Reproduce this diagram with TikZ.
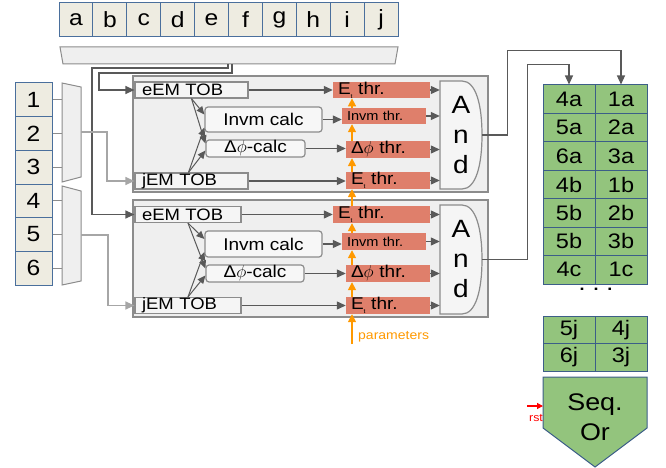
\documentclass[tikz,border=0pt]{standalone}
\usepackage{fontspec}
\setmainfont[FakeStretch=1.12]{Liberation Sans}
\usetikzlibrary{arrows.meta,calc}
\definecolor{beige}{HTML}{EEECE1}
\definecolor{cellblue}{HTML}{4A6F9C}
\definecolor{bggray}{HTML}{EFEFEF}
\definecolor{edgegray}{HTML}{8C8C8C}
\definecolor{arrgray}{HTML}{595959}
\definecolor{wiregray}{HTML}{A6A6A6}
\definecolor{salmon}{HTML}{DF7F6B}
\definecolor{gfill}{HTML}{93C47D}
\definecolor{gedge}{HTML}{3C5E88}
\definecolor{orng}{HTML}{FF9900}
\newcommand\fsz[2]{\fontsize{#1}{#2}\selectfont}
\newcommand\EtLab{E\raisebox{-4pt}{\fsz{6}{6}t}}
\begin{document}
\begin{tikzpicture}[x=1pt,y=-1pt,
  cellb/.style={draw=cellblue, fill=beige, line width=1pt, inner sep=0pt, font=\fsz{22}{26}},
  muxs/.style={draw=edgegray, fill=bggray, line width=1pt},
  blk/.style={draw=edgegray, fill=bggray, line width=1.5pt, inner sep=0pt},
  tob/.style={draw=edgegray, fill=bggray!60!white, line width=1.2pt, inner sep=0pt, inner xsep=7pt, minimum height=16pt, align=left, font=\fsz{16.5}{18}},
  calcb/.style={draw=edgegray, fill=bggray!50!white, line width=1.2pt, rounded corners=3pt, inner sep=0pt, font=\fsz{17}{19}},
  thrb/.style={fill=salmon, inner sep=0pt, inner xsep=5pt, align=left, font=\fsz{17}{19}},
  andb/.style={inner sep=0pt, minimum width=42pt, minimum height=108pt, align=center, font=\fsz{25}{30}},
  andshape/.style={draw=edgegray, fill=bggray!60!white, line width=1.2pt},
  gcell/.style={draw=gedge, fill=gfill, line width=1pt, inner sep=0pt, minimum width=52pt, font=\fsz{21}{24}},
  arr/.style={draw=arrgray, line width=1.2pt, -{Triangle[length=9pt,width=8pt]}},
  farr/.style={draw=arrgray, line width=1pt, -{Triangle[length=8pt,width=7pt]}},
  larr/.style={draw=wiregray, line width=1.2pt, -{Triangle[length=9pt,width=8pt]}},
  wire/.style={draw=edgegray, line width=1pt},
  oarr/.style={draw=orng, line width=1.5pt, -{Triangle[length=8pt,width=8pt]}},
]
\useasboundingbox (0,0) rectangle (666,468);

% top row
\foreach \l [count=\i from 0] in {a,b,c,d,e,f,g,h,i,j}
  \node[cellb, minimum width=33.9pt, minimum height=34pt] (t\l) at ({59+33.9*(\i+0.5)},20) {\l};
\draw[muxs] (60,47) -- (398,47) -- (395,64) -- (63,64) -- cycle;
\coordinate (tmo1) at (228,64);
\coordinate (tmo2) at (232,64);

% left column
\foreach \n in {1,...,6}
  \node[cellb, minimum width=37pt, minimum height=33.67pt] (n\n) at (33.5,{83+33.67*(\n-0.5)}) {\n};
\draw[muxs] (62,83) -- (81,87) -- (81,177) -- (62,182) -- cycle;
\draw[muxs] (62,186) -- (81,191) -- (81,281) -- (62,285) -- cycle;
\coordinate (m1l) at (62,130);
\coordinate (m2l) at (62,235);
\coordinate (m1o) at (81,132);
\coordinate (m2o) at (81,235);
\foreach \n in {1,2,3} \draw[wire] (n\n.east) -- (n\n.east -| m1l);
\foreach \n in {4,5,6} \draw[wire] (n\n.east) -- (n\n.east -| m2l);

% blocks
\node[blk, minimum width=355pt, minimum height=116pt] (blkA) at (310.5,134) {};
\node[blk, minimum width=355pt, minimum height=117pt] (blkB) at (310.5,258.5) {};

% block A
\node[tob, text width=99pt] (eemA) at (191.5,90) {eEM TOB};
\node[tob, text width=99pt] (jemA) at (191.5,181) {jEM TOB};
\node[calcb, minimum width=117pt, minimum height=25pt] (invA) at (263.5,119.5) {Invm calc};
\node[calcb, minimum width=99pt, minimum height=17pt] (dphA) at (255.5,148.5) {Δ$\phi$-calc};
\node[thrb, text width=87pt, minimum height=16pt] (etA1) at (381.5,90) {\EtLab\ thr.};
\node[thrb, text width=74pt, minimum height=16pt, font=\fsz{13}{14}] (invtA) at (384,116) {Invm thr.};
\node[thrb, text width=74pt, minimum height=17pt] (dphtA) at (388,149.5) {Δ$\phi$ thr.};
\node[thrb, text width=74pt, minimum height=17pt] (etA2) at (388,180.5) {\EtLab\ thr.};
\coordinate (andAc) at (461,135);
\draw[andshape] ($(andAc)+(-21,-54)$) -- ++(22,0) .. controls +(14,0) and +(0,-30) .. ($(andAc)+(21,0)$) .. controls +(0,30) and +(14,0) .. ($(andAc)+(1,54)$) -- ($(andAc)+(-21,54)$) -- cycle;
\node[andb] (andA) at (andAc) {A\\n\\d};

% block B
\node[tob, text width=92pt] (eemB) at (188,214.5) {eEM TOB};
\node[tob, text width=92pt] (jemB) at (188,305.5) {jEM TOB};
\node[calcb, minimum width=117pt, minimum height=26pt] (invB) at (263.5,244) {Invm calc};
\node[calcb, minimum width=98pt, minimum height=17pt] (dphB) at (255,273.5) {Δ$\phi$-calc};
\node[thrb, text width=87pt, minimum height=17pt] (etB1) at (381.5,214.5) {\EtLab\ thr.};
\node[thrb, text width=74pt, minimum height=17pt, font=\fsz{13}{14}] (invtB) at (384,241.5) {Invm thr.};
\node[thrb, text width=74pt, minimum height=17pt] (dphtB) at (388,273.5) {Δ$\phi$ thr.};
\node[thrb, text width=74pt, minimum height=17pt] (etB2) at (388,305.5) {\EtLab\ thr.};
\coordinate (andBc) at (461,259.5);
\draw[andshape] ($(andBc)+(-21,-54.5)$) -- ++(22,0) .. controls +(14,0) and +(0,-30) .. ($(andBc)+(21,0)$) .. controls +(0,30) and +(14,0) .. ($(andBc)+(1,54.5)$) -- ($(andBc)+(-21,54.5)$) -- cycle;
\node[andb, minimum height=109pt] (andB) at (andBc) {A\\n\\d};

% top wires
\draw[arr] (tmo1) -- ++(0,4) -- ++(-136,0) |- (eemB.west);
\draw[arr] (tmo2) -- ++(0,9) -- ++(-133,0) |- (eemA.west);
% mux outputs
\draw[larr] (m1o) -- ++(26,0) |- (jemA.west);
\draw[larr] (m2o) -- ++(27,0) |- (jemB.west);

% fan arrows
\draw[farr] (eemA.south) -- ([yshift=5pt]invA.west);
\draw[farr] (eemA.south) -- ([yshift=5pt]dphA.west);
\draw[farr] ([xshift=-3pt]jemA.north) -- ([yshift=-8pt]invA.west);
\draw[farr] ([xshift=-3pt]jemA.north) -- ([yshift=-2pt]dphA.west);
\draw[farr] (eemB.south) -- ([yshift=5pt]invB.west);
\draw[farr] (eemB.south) -- ([yshift=5pt]dphB.west);
\draw[farr] (jemB.north) -- ([yshift=-8pt]invB.west);
\draw[farr] (jemB.north) -- ([yshift=-2pt]dphB.west);

% horizontal arrows
\foreach \s/\t in {eemA/etA1, invA/invtA, dphA/dphtA, jemA/etA2, eemB/etB1, invB/invtB, dphB/dphtB, jemB/etB2}
  \draw[arr] (\s.east) -- (\s.east -| \t.west);
\foreach \s in {etA1, invtA, dphtA, etA2}
  \draw[arr] (\s.east) -- (\s.east -| andA.west);
\foreach \s in {etB1, invtB, dphtB, etB2}
  \draw[arr] (\s.east) -- (\s.east -| andB.west);

% orange parameter chain
\coordinate (par) at (352,344);
\node[text=orng, font=\fsz{12.5}{14}, anchor=west, inner sep=0pt] (params) at (358,337) {parameters};
\draw[oarr] (par) -- (par |- etB2.south);
\draw[oarr] (etB2.north -| par) -- (dphtB.south -| par);
\draw[oarr] (dphtB.north -| par) -- (invtB.south -| par);
\draw[oarr] (invtB.north -| par) -- (etB1.south -| par);
\draw[oarr] (etB1.north -| par) -- (etA2.south -| par);
\draw[oarr] (etA2.north -| par) -- (dphtA.south -| par);
\draw[oarr] (dphtA.north -| par) -- (invtA.south -| par);
\draw[oarr] (invtA.north -| par) -- (etA1.south -| par);

% green table
\foreach \a/\b [count=\r from 0] in {4a/1a,5a/2a,6a/3a,4b/1b,5b/2b,5b/3b,4c/1c} {
  \node[gcell, minimum height=28.43pt] (gL\r) at (569,{85+28.43*(\r+0.5)}) {\a};
  \node[gcell, minimum height=28.43pt] (gR\r) at (621,{85+28.43*(\r+0.5)}) {\b};
}
\node[font=\bfseries\fsz{16}{18}, inner sep=0pt] (dots) at (596,289) {.\hspace{9pt}.\hspace{9pt}.};
\node[gcell, minimum height=27.5pt] (bL0) at (569,329.75) {5j};
\node[gcell, minimum height=27.5pt] (bR0) at (621,329.75) {4j};
\node[gcell, minimum height=27.5pt] (bL1) at (569,357.25) {6j};
\node[gcell, minimum height=27.5pt] (bR1) at (621,357.25) {3j};
\draw[draw=gedge, fill=gfill, line width=1pt] (543,377) -- (647,377) -- (647,428) -- (595,467) -- (543,428) -- cycle;
\node[align=center, font=\fsz{24}{30}, inner sep=0pt] (seqor) at (595,417) {Seq.\\Or};

% And outputs
\draw[arr] (andA.east) -- ++(25,0) |- ([yshift=34pt]gR0.north) -- (gR0.north);
\draw[arr] (andB.east) -- ++(45,0) |- ([yshift=20pt]gL0.north) -- (gL0.north);

% rst
\coordinate (rstA) at (527,406);
\coordinate (seqL) at (543,406);
\draw[draw=red, line width=1.2pt, -{Triangle[length=6pt,width=6pt]}] (rstA) -- (seqL);
\node[text=red, font=\fsz{11}{12}, inner sep=0pt] (rst) at (536,418) {rst};
\end{tikzpicture}
\end{document}
